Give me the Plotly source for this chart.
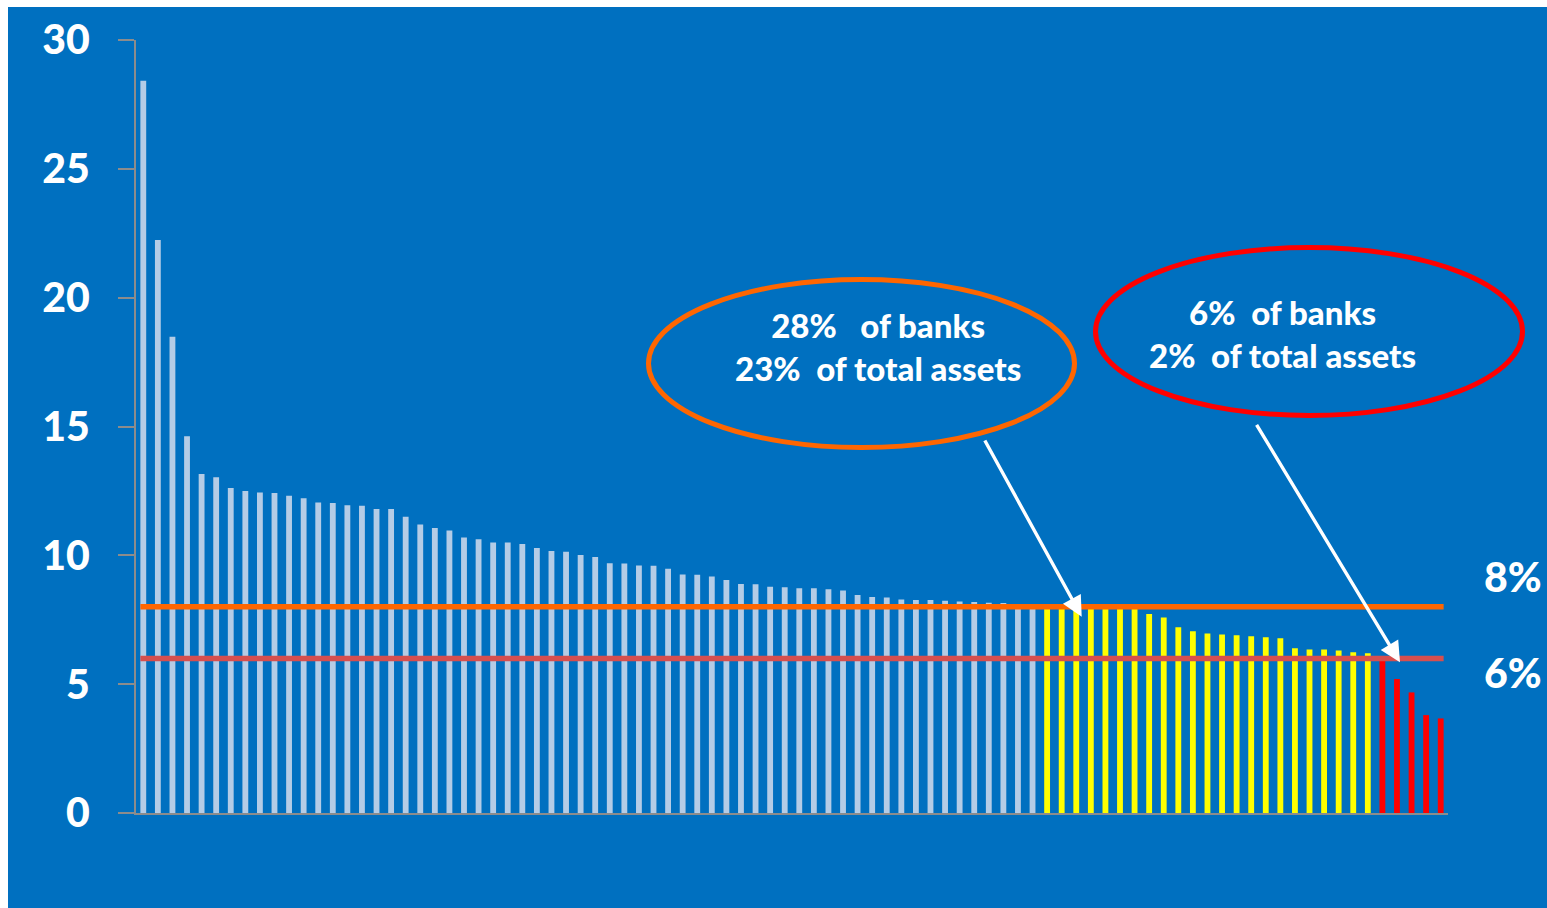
import plotly.graph_objects as go

# ---------------- data ----------------
bank_rank = [str(i + 1) for i in range(90)]
capital_ratio = [
    28.42, 22.24, 18.48, 14.62, 13.16, 13.03, 12.61, 12.50, 12.44, 12.42,
    12.31, 12.22, 12.05, 12.03, 11.94, 11.92, 11.80, 11.80, 11.50, 11.20,
    11.06, 10.96, 10.69, 10.62, 10.50, 10.50, 10.44, 10.28, 10.17, 10.14,
    10.01, 9.94, 9.69, 9.68, 9.61, 9.60, 9.48, 9.26, 9.25, 9.18,
    9.04, 8.89, 8.88, 8.78, 8.76, 8.72, 8.72, 8.68, 8.64, 8.46,
    8.38, 8.36, 8.29, 8.27, 8.27, 8.24, 8.21, 8.19, 8.16, 8.15,
    8.08, 8.04, 7.98, 7.97, 7.96, 7.95, 7.94, 7.93, 7.92, 7.72,
    7.59, 7.21, 7.05, 6.97, 6.93, 6.90, 6.86, 6.82, 6.78, 6.39,
    6.35, 6.35, 6.31, 6.24, 6.20, 5.95, 5.20, 4.68, 3.80, 3.67,
]
upper_threshold = 8
lower_threshold = 6
threshold_labels = ["8%", "6%"]
y_tick_values = [0, 5, 10, 15, 20, 25, 30]
callout_orange = ["28%   of banks", "23%  of total assets"]
callout_red = ["6%  of banks", "2%  of total assets"]

# ---------------- style ----------------
BG = "#0070C0"
LIGHT = "#B4CCE6"
YELLOW = "#FFFF00"
RED = "#FF0000"
ORANGE = "#FF6600"
RED_LINE = "#D64F4F"
AXIS_GREY = "#8C8C8C"
FONT = "Lato"

W, H = 1547, 908
PL, PR, PT, PB = 136, 1448, 40, 813
n = len(capital_ratio)
XMIN, XMAX = -0.5, n - 0.5
YMIN, YMAX = 0, 30


def dx(px):
    return XMIN + (px - PL) / (PR - PL) * (XMAX - XMIN)


def dy(py):
    return YMIN + (PB - py) / (PB - PT) * (YMAX - YMIN)


def ppx(px):
    return (px - PL) / (PR - PL)


def ppy(py):
    return (PB - py) / (PB - PT)


colors = [LIGHT if v >= upper_threshold else (YELLOW if v >= lower_threshold else RED)
          for v in capital_ratio]

fig = go.Figure()
fig.add_trace(go.Bar(
    x=list(range(n)), y=capital_ratio, width=0.4,
    marker=dict(color=colors, line=dict(width=0)),
    hovertext=bank_rank, showlegend=False,
))

pad = 0.2
for thr, col in [(upper_threshold, ORANGE), (lower_threshold, RED_LINE)]:
    fig.add_trace(go.Scatter(
        x=[0 - pad, n - 1 + pad], y=[thr, thr], mode="lines",
        line=dict(color=col, width=5.5), showlegend=False, hoverinfo="skip",
    ))

shapes = [
    dict(type="circle", xref="paper", yref="paper",
         x0=ppx(648.5), x1=ppx(1074.5), y0=ppy(447.5), y1=ppy(279.5),
         line=dict(color=ORANGE, width=5), layer="above"),
    dict(type="circle", xref="paper", yref="paper",
         x0=ppx(1095.5), x1=ppx(1522.5), y0=ppy(415.5), y1=ppy(247.5),
         line=dict(color=RED, width=5), layer="above"),
    dict(type="rect", xref="paper", yref="paper",
         x0=ppx(0), x1=ppx(8), y0=ppy(H), y1=ppy(0),
         fillcolor="white", line=dict(width=0), layer="above"),
    dict(type="rect", xref="paper", yref="paper",
         x0=ppx(0), x1=ppx(W), y0=ppy(7), y1=ppy(0),
         fillcolor="white", line=dict(width=0), layer="above"),
]

callout_font = dict(family=FONT, size=33, color="white", weight=900)
label_font = dict(family=FONT, size=41, color="white", weight=900)

annotations = [
    dict(x=ppx(878), y=ppy(347), xref="paper", yref="paper",
         text="<br>".join(callout_orange), xanchor="center", yanchor="middle",
         showarrow=False, font=callout_font, align="center"),
    dict(x=ppx(1282), y=ppy(333), xref="paper", yref="paper",
         text="<br>".join(callout_red), xanchor="center", yanchor="middle",
         showarrow=False, font=callout_font, align="center"),
    dict(x=ppx(1482), y=ppy(576), xref="paper", yref="paper",
         text=threshold_labels[0], xanchor="left", yanchor="middle",
         showarrow=False, font=label_font),
    dict(x=ppx(1482), y=ppy(672), xref="paper", yref="paper",
         text=threshold_labels[1], xanchor="left", yanchor="middle",
         showarrow=False, font=label_font),
    dict(x=dx(1081.7), y=dy(616.7), xref="x", yref="y", text="",
         showarrow=True, ax=984 - 1081.7, ay=439 - 616.7,
         arrowhead=2, arrowsize=1.2, arrowwidth=3.4, arrowcolor="white", standoff=0),
    dict(x=dx(1400), y=dy(662.3), xref="x", yref="y", text="",
         showarrow=True, ax=1255.7 - 1400, ay=423.3 - 662.3,
         arrowhead=2, arrowsize=1.2, arrowwidth=3.4, arrowcolor="white", standoff=0),
]

fig.update_layout(
    width=W, height=H, autosize=False,
    margin=dict(l=PL, r=W - PR, t=PT, b=H - PB, pad=0),
    paper_bgcolor=BG, plot_bgcolor=BG,
    shapes=shapes, annotations=annotations,
    xaxis=dict(range=[XMIN, XMAX], showgrid=False, zeroline=False,
               showline=True, linecolor=AXIS_GREY, linewidth=2,
               showticklabels=False, ticks=""),
    yaxis=dict(range=[YMIN, YMAX], showgrid=False, zeroline=False,
               showline=True, linecolor=AXIS_GREY, linewidth=2,
               tickvals=y_tick_values, ticks="outside", ticklen=16,
               tickcolor=AXIS_GREY, tickwidth=2, ticklabelstandoff=20,
               tickfont=dict(family=FONT, size=41, color="white", weight=900)),
)

fig.write_html("out.html")
